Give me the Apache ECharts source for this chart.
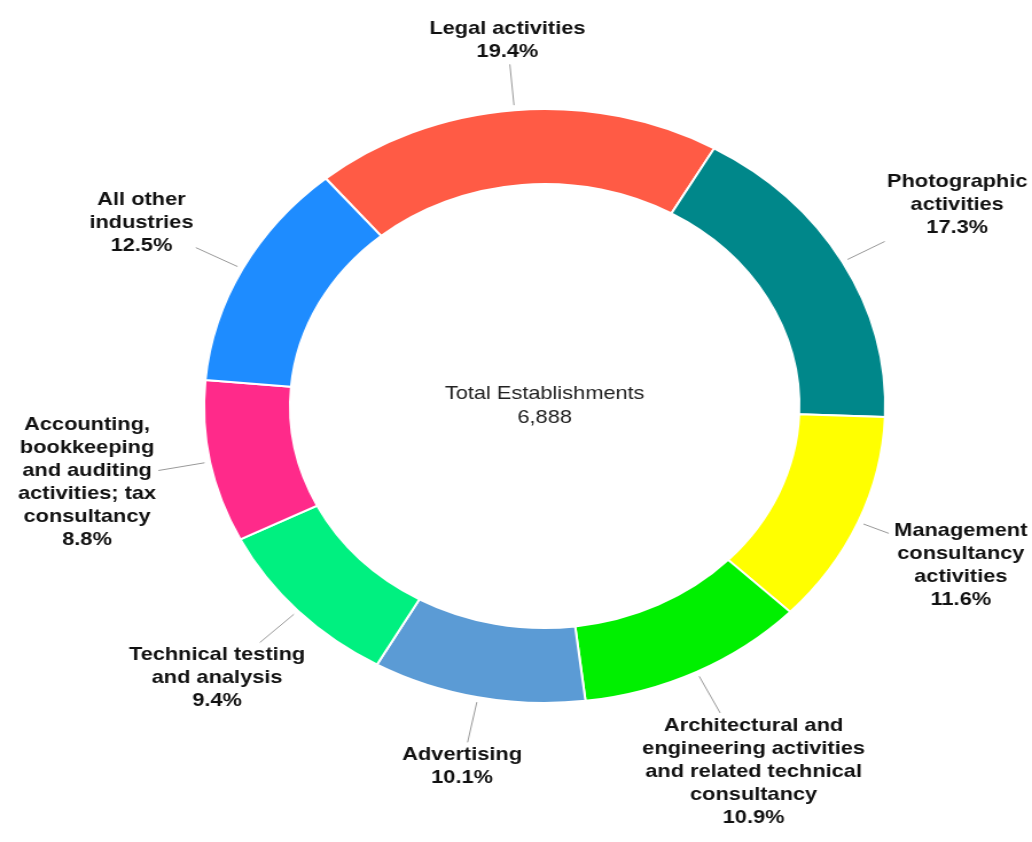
<!DOCTYPE html>
<html lang="en">
<head>
    <meta charset="UTF-8">
    <title>Establishments by industry</title>
    <script src="https://cdn.jsdelivr.net/npm/echarts@6/dist/echarts.min.js"></script>
    <style>
        html, body { margin: 0; padding: 0; background: #fff; overflow: hidden; }
        /* the reference picture is stretched sideways, so the chart is too */
        #main { width: 900px; height: 842px; transform: scaleX(1.14667); transform-origin: 0 0; }
    </style>
</head>
<body>
<div id="main"></div>

<script>
    // industries, clockwise from the top
    const industries = [
        'Legal activities',
        'Photographic activities',
        'Management consultancy activities',
        'Architectural and engineering activities and related technical consultancy',
        'Advertising',
        'Technical testing and analysis',
        'Accounting, bookkeeping and auditing activities; tax consultancy',
        'All other industries'
    ];
    // wrapped label text as in the picture
    const labelText = [
        'Legal activities',
        'Photographic\nactivities',
        'Management\nconsultancy\nactivities',
        'Architectural and\nengineering activities\nand related technical\nconsultancy',
        'Advertising',
        'Technical testing\nand analysis',
        'Accounting,\nbookkeeping\nand auditing\nactivities; tax\nconsultancy',
        'All other\nindustries'
    ];
    // share of establishments, %
    const shares = [19.4, 17.3, 11.6, 10.9, 10.1, 9.4, 8.8, 12.5];
    const colors = ['#FF5B45', '#00878A', '#FFFF00', '#00F000', '#5B9BD5', '#00F080', '#FF2A8A', '#1E8CFF'];
    const totalTitle = 'Total Establishments';
    const totalCount = 6888;

    const font = '"Liberation Sans", Arial, sans-serif';
    const cx = 475, cy = 406;

    const myChart = echarts.init(document.getElementById('main'));

    // put the text block just beyond the end of its (radial) line, kept inside the canvas
    const placeLabel = function (params) {
        const pts = params.labelLinePoints;
        if (!pts) return {};
        const a = pts[0], b = pts[1];
        let ux = b[0] - a[0], uy = b[1] - a[1];
        const len = Math.sqrt(ux * ux + uy * uy) || 1;
        ux /= len; uy /= len;
        const start = [a[0] + ux * 5, a[1] + uy * 5];
        const hw = params.labelRect.width / 2 + 2;
        const hh = params.labelRect.height / 2 + 1;
        const tx = Math.abs(ux) > 1e-6 ? hw / Math.abs(ux) : Infinity;
        const ty = Math.abs(uy) > 1e-6 ? hh / Math.abs(uy) : Infinity;
        const t = Math.min(tx, ty);
        let x = b[0] + ux * t;
        let y = b[1] + uy * t;
        const w = myChart.getWidth(), h = myChart.getHeight();
        x = Math.max(hw + 2, Math.min(w - hw - 2, x));
        y = Math.max(hh + 2, Math.min(h - hh - 2, y));

        // if the box was pushed back onto the line, stop the line where it meets the box
        let end = b;
        const slab = function (p, d, lo, hi) {
            if (Math.abs(d) < 1e-6) return (p >= lo && p <= hi) ? -Infinity : Infinity;
            const s1 = (lo - p) / d, s2 = (hi - p) / d;
            return Math.min(s1, s2);
        };
        const sIn = Math.max(slab(a[0], ux, x - hw, x + hw), slab(a[1], uy, y - hh, y + hh));
        if (isFinite(sIn) && sIn < len) {
            const s = Math.max(sIn - 3, 10);
            end = [a[0] + ux * s, a[1] + uy * s];
        }
        return {
            x: x,
            y: y,
            align: 'center',
            verticalAlign: 'middle',
            labelLinePoints: [start, end, end]
        };
    };

    myChart.setOption({
        animation: false,
        graphic: [{
            type: 'text',
            x: cx,
            y: cy,
            style: {
                text: totalTitle + '\n' + totalCount.toLocaleString('en-US'),
                align: 'center',
                verticalAlign: 'middle',
                fontFamily: font,
                fontSize: 19,
                lineHeight: 24,
                fill: '#222'
            }
        }],
        series: [{
            type: 'pie',
            center: [cx, cy],
            radius: [222, 297],
            startAngle: 130,
            clockwise: true,
            avoidLabelOverlap: false,
            silent: true,
            itemStyle: { borderColor: '#fff', borderWidth: 2 },
            label: {
                formatter: function (p) {
                    return labelText[p.dataIndex] + '\n' + p.value.toFixed(1) + '%';
                },
                fontFamily: font,
                fontWeight: 'bold',
                fontSize: 19,
                lineHeight: 23,
                color: '#111'
            },
            labelLine: { length: 46, length2: 0, lineStyle: { color: '#999', width: 1 } },
            labelLayout: placeLabel,
            data: industries.map(function (name, i) {
                return { name: name, value: shares[i], itemStyle: { color: colors[i] } };
            })
        }]
    });
</script>
</body>
</html>
